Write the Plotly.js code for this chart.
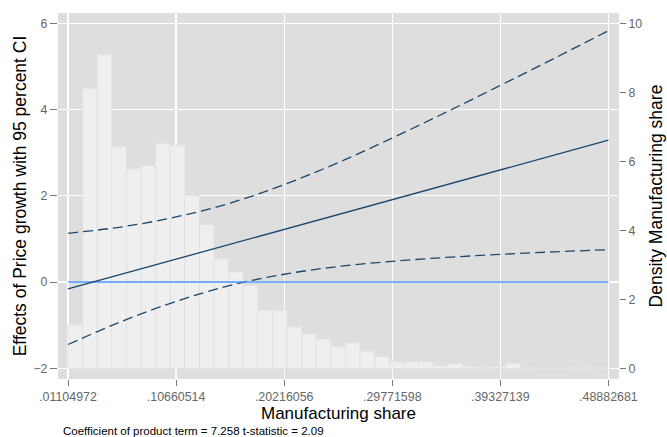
<!DOCTYPE html>
<html>
<head>
<meta charset="utf-8">
<script src="https://cdn.plot.ly/plotly-3.0.1.min.js"></script>
<style>html,body{margin:0;padding:0;background:#fff;}#chart{width:667px;height:437px;}</style>
</head>
<body>
<div id="chart"></div>
<script>
// X tick values / labels
const xTickVals = [0.01104972, 0.10660514, 0.20216056, 0.29771598, 0.39327139, 0.48882681];
const xTickText = [".01104972", ".10660514", ".20216056", ".29771598", ".39327139", ".48882681"];

// Marginal effect and 95% CI
const xGrid = [0.01104972, 0.0588274, 0.10660514, 0.15438285, 0.20216056, 0.24993827,
               0.29771598, 0.34549369, 0.39327139, 0.4410491, 0.48882681];
const effect = [-0.16, 0.185, 0.53, 0.875, 1.22, 1.565, 1.91, 2.255, 2.60, 2.945, 3.29];
const upperCI = [1.13, 1.28, 1.51, 1.83, 2.26, 2.77, 3.34, 3.94, 4.56, 5.19, 5.83];
const lowerCI = [-1.45, -0.91, -0.45, -0.08, 0.18, 0.36, 0.48, 0.57, 0.64, 0.70, 0.75];

// Reference line at zero
const zeroX = [0.01104972, 0.48882681];
const zeroY = [0, 0];

// Histogram of manufacturing share (density), 37 bins from min to max
const histMin = 0.01104972;
const histMax = 0.48882681;
const density = [1.27, 8.11, 9.10, 6.43, 5.79, 5.88, 6.53, 6.46, 5.01, 4.17,
                 3.18, 2.80, 2.41, 1.69, 1.69, 1.21, 1.01, 0.86, 0.64, 0.75,
                 0.51, 0.35, 0.20, 0.20, 0.20, 0.08, 0.15, 0.06, 0.04, 0.06,
                 0.15, 0.03, 0, 0, 0.03, 0.04, 0.02];

const nBins = density.length;
const binW = (histMax - histMin) / nBins;
const binCenters = density.map((_, i) => histMin + binW * (i + 0.5));

const navy = '#1a476f';
const FONT = 'Arial, "Liberation Sans", Helvetica, sans-serif';

const traces = [
  {
    type: 'bar', x: binCenters, y: density, width: binW,
    xaxis: 'x', yaxis: 'y',
    marker: {color: '#efefef', line: {color: '#e2e2e2', width: 1}},
    hoverinfo: 'skip', showlegend: false
  },
  {
    type: 'scatter', mode: 'lines', x: xGrid, y: upperCI, xaxis: 'x', yaxis: 'y2',
    line: {color: navy, width: 1.3, dash: '10px,5px', shape: 'spline'}, showlegend: false
  },
  {
    type: 'scatter', mode: 'lines', x: xGrid, y: lowerCI, xaxis: 'x', yaxis: 'y2',
    line: {color: navy, width: 1.3, dash: '10px,5px', shape: 'spline'}, showlegend: false
  },
  {
    type: 'scatter', mode: 'lines', x: zeroX, y: zeroY, xaxis: 'x', yaxis: 'y2',
    line: {color: '#4d94ff', width: 1.3}, showlegend: false
  },
  {
    type: 'scatter', mode: 'lines', x: xGrid, y: effect, xaxis: 'x', yaxis: 'y2',
    line: {color: navy, width: 1.3}, showlegend: false
  }
];

const layout = {
  width: 667, height: 437,
  margin: {l: 58, r: 48, t: 13, b: 58},
  paper_bgcolor: '#ffffff',
  plot_bgcolor: '#dedede',
  font: {family: FONT, color: '#000'},
  showlegend: false,
  bargap: 0,
  xaxis: {
    range: [0.00221, 0.4982],
    tickvals: xTickVals, ticktext: xTickText,
    ticks: 'outside', ticklen: 6, tickcolor: '#777', tickwidth: 1,
    tickfont: {size: 12.4, color: '#666', family: FONT},
    showgrid: true, gridcolor: '#ffffff', gridwidth: 1.2,
    zeroline: false, showline: false,
    title: {text: 'Manufacturing share', font: {size: 17, color: '#000', family: FONT}, standoff: 3}
  },
  yaxis: {
    side: 'right',
    range: [-0.30, 10.30],
    tickvals: [0, 2, 4, 6, 8, 10],
    ticks: 'outside', ticklen: 6, tickcolor: '#777', tickwidth: 1,
    tickfont: {size: 12.4, color: '#666', family: FONT},
    showgrid: false, zeroline: false, showline: false,
    title: {text: 'Density Manufacturing share', font: {size: 17.5, color: '#000', family: FONT}, standoff: 8}
  },
  yaxis2: {
    side: 'left', overlaying: 'y',
    range: [-2.25, 6.24],
    tickvals: [-2, 0, 2, 4, 6],
    ticks: 'outside', ticklen: 7, tickcolor: '#777', tickwidth: 1,
    tickfont: {size: 12.4, color: '#666', family: FONT},
    showgrid: true, gridcolor: '#ffffff', gridwidth: 1.2,
    zeroline: false, showline: false,
    title: {text: 'Effects of Price growth with 95 percent CI', font: {size: 17.5, color: '#000', family: FONT}, standoff: 2}
  },
  annotations: [{
    xref: 'paper', yref: 'paper',
    x: (61 - 58) / (667 - 58 - 48), y: -(431 - 379) / (437 - 13 - 58),
    xanchor: 'left', yanchor: 'middle', showarrow: false,
    text: 'Coefficient of product term = 7.258 t-statistic = 2.09',
    font: {size: 11.5, color: '#000', family: FONT}
  }]
};

Plotly.newPlot('chart', traces, layout, {displayModeBar: false, staticPlot: true});
</script>
</body>
</html>
